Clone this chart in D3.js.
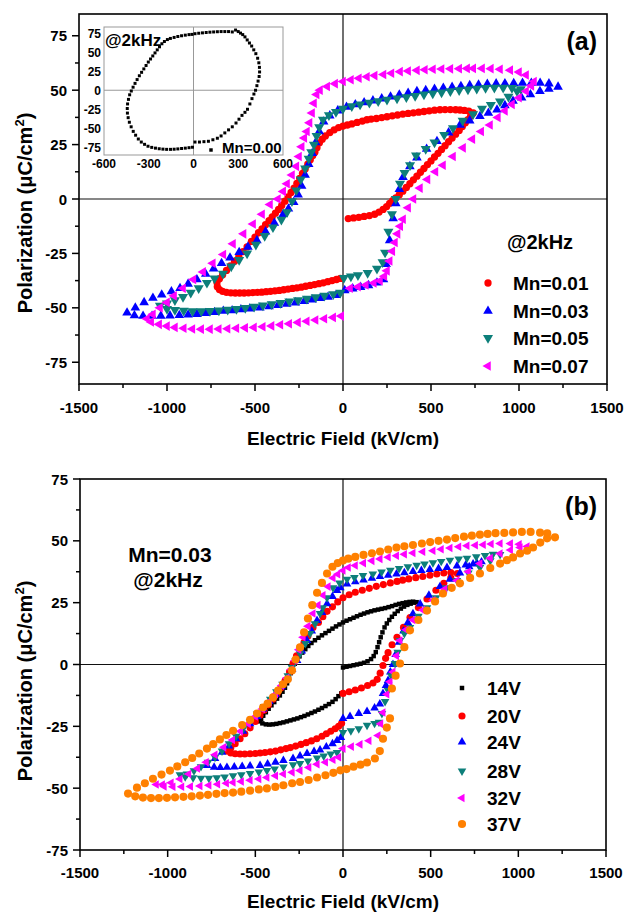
<!DOCTYPE html>
<html>
<head>
<meta charset="utf-8">
<script src="https://cdn.jsdelivr.net/npm/d3@7"></script>
<style>
body{margin:0;background:#fff}
svg text{font-family:"Liberation Sans",Arial,sans-serif;font-weight:bold;fill:#000}
</style>
</head>
<body>
<div id="chart"></div>
<script>
// ---------------------------------------------------------------- DATA (a) : Mn content @2kHz
var mn001 = [[30,-9],[60,-8.7],[90,-8.4],[120,-8],[150,-7.6],[180,-7],[205,-6],[228,-4.8],[248,-3.5],[265,-2],[282,-0.8],[300,0.5],[320,2],[340,3.6],[360,5.3],[380,7],[400,8.8],[420,10.5],[440,12.3],[460,14],[480,15.8],[500,17.5],[520,19.3],[540,21],[560,22.8],[580,24.5],[600,26.3],[620,28],[640,29.8],[660,31.5],[678,33.3],[695,35],[710,36.5],[725,38],[740,39.5],
  [715,40.4],[690,40.7],[665,40.9],[640,41],[610,41.1],[580,41.1],[551,41],[520,40.8],[490,40.5],[460,40.2],[430,39.9],[400,39.6],[370,39.3],[340,39],[310,38.6],[280,38.2],[250,37.8],[220,37.4],[190,37],[160,36.7],[136,36.4],[110,35.8],[80,35.2],[50,34.5],[25,34],[0,33.5],[-25,32.8],[-50,31.8],[-75,30.5],[-100,29],[-118,27.5],[-134,25.8],[-148,23.5],[-160,21.5],[-172,20],[-186,18],[-200,16],[-215,13.8],[-230,11.8],[-246,9.5],[-262,7.2],[-278,5],[-295,3],[-312,1],[-330,-1],[-348,-3],[-366,-4.8],[-384,-6.5],[-402,-8.2],[-420,-10],[-440,-11.8],[-460,-13.7],[-480,-15.5],[-500,-17.5],[-520,-19.5],[-545,-22],[-568,-24.2],[-592,-26.5],[-616,-28.6],[-640,-30.7],[-662,-32.8],[-684,-34.8],[-702,-36.6],[-716,-38.4],
  [-714,-40.3],[-702,-41.6],[-684,-42.4],[-662,-42.9],[-637,-43.1],[-612,-43.2],[-587,-43.2],[-562,-43.2],[-537,-43.1],[-512,-43],[-487,-42.9],[-462,-42.8],[-437,-42.6],[-412,-42.4],[-387,-42.2],[-362,-42],[-337,-41.7],[-312,-41.4],[-287,-41.1],[-262,-40.8],[-237,-40.5],[-212,-40.1],[-187,-39.7],[-162,-39.3],[-137,-38.9],[-112,-38.5],[-87,-38],[-62,-37.5],[-37,-37],[-15,-36.5]];
var mn003 = [[10,-42],[55,-41.2],[100,-40.5],[145,-39.7],[193,-38.5],[230,-37],[245,-30],[265,-19],[285,-9],[300,-2],[320,4.5],[341,10],[380,15],[420,19],[475,23],[534,26.5],[600,30.5],[665,34],[720,36],[778,38],[826,39.5],[875,41],[920,43],[966,45],[1015,46.5],[1065,48],[1119,49.5],[1170,50.5],[1222,51.5],
  [1170,53],[1120,53.3],[1070,53.3],[1020,53.3],[970,53.2],[920,53.1],[870,53],[820,52.8],[770,52.5],[720,52.2],[670,51.8],[620,51.4],[570,51],[520,50.5],[470,50],[420,49.5],[370,48.7],[320,47.9],[270,47],[220,46.1],[170,45.2],[120,44.3],[70,43.4],[20,42.3],[-30,40.6],[-75,38.3],[-110,35.5],[-135,31],[-155,26],[-175,21],[-195,16],[-215,11],[-235,6],[-255,2],[-280,-1.5],[-310,-4.5],[-340,-7],[-390,-11],[-440,-15],[-489,-19],[-540,-22],[-590,-24.5],[-642,-27],[-690,-29.5],[-735,-32],[-780,-34.5],[-830,-37],[-880,-39],[-926,-41],[-975,-42.5],[-1030,-44],[-1080,-45.5],[-1130,-47.5],[-1180,-50],[-1227,-52.3],
  [-1185,-53.5],[-1136,-53.8],[-1085,-53.8],[-1035,-53.7],[-983,-53.6],[-930,-53.4],[-880,-53.2],[-830,-52.9],[-780,-52.5],[-730,-52],[-680,-51.5],[-630,-51.2],[-580,-50.8],[-530,-50.4],[-472,-50],[-420,-49.4],[-370,-48.8],[-320,-48.2],[-270,-47.6],[-220,-47],[-175,-46.3],[-130,-45.6],[-85,-45],[-40,-44.2]];
var mn005 = [[5,-36.3],[45,-35.6],[85,-35],[140,-34],[193,-32],[225,-29],[239,-24.6],[258,-15],[278,-7],[300,0],[324,7],[350,12],[381,15.5],[415,20],[470,23],[520,26],[575,29.5],[625,32.6],[680,36],[739,39],[790,41.5],[840,43.2],[892,44.8],[940,47],[989,49.5],[1010,50.5],
  [960,51],[910,51.2],[860,51.2],[810,51],[760,50.7],[710,50.4],[660,50],[610,49.5],[560,49],[510,48.5],[460,48],[410,47.4],[360,46.8],[307,46.2],[250,45.6],[200,45],[150,44.3],[97,43.5],[50,42.7],[0,41.5],[-40,40],[-80,38.5],[-114,36.5],[-135,33],[-150,29],[-165,25],[-180,21.5],[-195,18.5],[-215,14],[-240,9],[-265,4],[-290,-1],[-318,-6],[-350,-9.5],[-398,-13],[-445,-17],[-495,-21],[-545,-25],[-590,-28],[-635,-31],[-682,-34.3],[-730,-36.5],[-773,-38.5],[-820,-41],[-865,-43],[-909,-45],[-955,-46.5],[-1000,-48],[-1040,-49],
  [-1000,-50.5],[-955,-51],[-905,-51.3],[-855,-51.5],[-805,-51.5],[-756,-51.4],[-705,-51.2],[-655,-50.9],[-605,-50.5],[-555,-50],[-505,-49.5],[-455,-48.9],[-405,-48.3],[-355,-47.7],[-305,-47.1],[-255,-46.5],[-205,-45.8],[-155,-45.1],[-105,-44.4],[-55,-43.7],[-15,-43]];
var mn007 = [[40,-41],[85,-40.3],[130,-39.5],[175,-38.6],[210,-37.6],[235,-35.5],[250,-33],[265,-28.5],[280,-24],[295,-20],[310,-16],[325,-12.5],[341,-9.3],[370,-4],[400,0],[437,5],[480,9],[525,12.5],[568,15.5],[625,19.5],[682,23.5],[735,27.5],[785,31],[835,34],[880,37.5],[920,40.5],[960,43.5],[1000,46.5],[1040,49.5],[1070,52],[1085,54],
  [1040,57],[1000,58.3],[950,59.2],[892,59.6],[840,59.9],[790,60],[740,60],[705,60],[660,59.9],[610,59.8],[560,59.7],[511,59.6],[465,59.4],[420,59.1],[370,58.8],[324,58.5],[275,57.8],[230,57.2],[180,56.7],[136,56.2],[90,55.5],[45,54.8],[0,54],[-45,53],[-90,51.7],[-131,50],[-150,48],[-165,44],[-176,39.5],[-190,35],[-205,31],[-220,28],[-235,24],[-250,19.5],[-265,15],[-290,11],[-318,7],[-340,3.5],[-370,0],[-415,-2.5],[-460,-7],[-511,-11.5],[-565,-16],[-625,-20.6],[-680,-25.5],[-740,-29.5],[-795,-33.5],[-850,-37],[-909,-41],[-960,-44.5],[-1000,-47.5],[-1040,-50],[-1080,-53],[-1114,-55],
  [-1090,-56.5],[-1045,-57.6],[-1000,-58.4],[-955,-59],[-905,-59.4],[-856,-59.7],[-806,-59.8],[-756,-59.8],[-706,-59.7],[-656,-59.6],[-606,-59.4],[-556,-59.2],[-506,-59],[-456,-58.7],[-406,-58.3],[-356,-57.8],[-306,-57.3],[-256,-56.7],[-206,-56.2],[-156,-55.6],[-106,-55],[-56,-54.4],[-10,-53.8]];
// inset : Mn=0.00
var mn000 = [[10,-68],[40,-68],[70,-67.5],[100,-67],[130,-65],[160,-63],[185,-60],[210,-56],[235,-52],[260,-48],[285,-43],[305,-38],[325,-33],[345,-29],[362,-25],[378,-18],[392,-11],[405,-5],[416,0],[425,6],[433,12],[440,18],[443,24],[442,30],[438,36],[430,42],[418,48],[404,53],[390,58],[375,62],[360,66],[345,70],[330,73],[315,75],[300,77],[282,79],
  [260,76.5],[235,77],[210,77],[185,77],[160,76.8],[135,76.5],[110,76.2],[85,75.8],[60,75.3],[35,74.8],[10,74.2],[-10,73.3],[-30,73],[-55,72.3],[-80,71.5],[-105,70.5],[-130,69.3],[-155,68],[-175,66.5],[-195,64],[-212,61],[-228,57],[-243,53],[-258,49],[-273,45],[-288,41],[-303,37],[-318,32.5],[-333,28],[-348,23.5],[-363,19],[-378,14],[-392,9],[-405,4],[-417,-1],[-428,-6],[-436,-12],[-442,-18],[-444,-24],[-443,-30],[-438,-36],[-430,-42],[-418,-48],[-404,-54],[-388,-59],[-370,-64],[-350,-68],[-328,-71],[-305,-73.5],[-280,-75],[-255,-76],[-230,-76.8],[-205,-77.3],[-180,-77.6],[-154,-77.6],[-130,-77.4],[-105,-77],[-80,-76.5],[-55,-76],[-30,-75.4],[-7,-74.8]];

// ---------------------------------------------------------------- DATA (b) : Mn=0.03, driving voltage
var v14 = [[0,-1.2],[20,-0.9],[40,-0.6],[60,-0.3],[80,0],[100,0.3],[120,0.7],[140,1.3],[160,2.2],[175,3.4],[187,5],[197,7],[206,9],[215,11],[225,13],[237,15],[250,16.6],[264,18],[279,19.3],[295,20.5],[312,21.6],[330,22.6],[348,23.4],[367,24.1],[386,24.6],[405,25],[420,25.2],
  [400,25.4],[380,25.3],[360,25.1],[340,24.8],[320,24.5],[300,24.1],[280,23.6],[260,23.2],[240,22.8],[220,22.5],[200,22.2],[180,21.9],[160,21.5],[140,21.1],[120,20.6],[100,20.1],[80,19.5],[60,18.9],[40,18.3],[20,17.7],[0,17],[-20,16.2],[-40,15.4],[-60,14.5],[-80,13.6],[-100,12.7],[-120,11.8],[-140,10.8],[-160,9.8],[-180,8.7],[-198,7.5],[-215,6.2],[-232,4.8],[-248,3.3],[-262,1.8],[-275,0.3],[-287,-1.5],[-298,-3.5],[-308,-5.6],[-319,-7.6],[-331,-9.4],[-345,-11],[-360,-12.5],[-376,-13.8],[-392,-15.2],[-408,-16.5],[-424,-17.9],[-440,-19.3],[-455,-20.7],[-467,-22],[-475,-23],
  [-460,-23.8],[-440,-24.2],[-420,-24.3],[-400,-24.2],[-380,-24],[-360,-23.7],[-340,-23.4],[-320,-23],[-300,-22.6],[-280,-22.2],[-260,-21.8],[-240,-21.3],[-220,-20.8],[-200,-20.2],[-180,-19.6],[-160,-19],[-140,-18.3],[-120,-17.6],[-100,-16.8],[-80,-16],[-60,-15.1],[-42,-14],[-26,-12.8],[-10,-11.7]];
var v20 = [[0,-11.7],[35,-11],[70,-10.3],[105,-9.5],[140,-8.5],[171,-7.5],[195,-6],[212,-3.5],[228,-0.4],[243,2.5],[257,4.8],[280,8],[308,11],[345,15],[382,19],[430,23],[479,26.5],[530,30],[575,32.8],[615,35],[652,36.8],
  [615,37.2],[575,37],[535,36.6],[496,36.1],[455,35.6],[415,35.1],[375,34.6],[340,34.1],[308,33.6],[270,33],[230,32.3],[190,31.6],[150,30.8],[110,30],[70,29.2],[35,28.2],[0,27],[-30,25.3],[-60,23.3],[-91,21.5],[-115,19.3],[-140,17],[-171,15],[-200,11.5],[-222,9],[-245,6.9],[-265,3.5],[-285,0.4],[-305,-3],[-330,-6.5],[-355,-9.5],[-376,-11.7],[-400,-14],[-425,-16.3],[-450,-18.5],[-473,-20.5],[-500,-23],[-530,-25.6],[-560,-28],[-587,-30],[-615,-32],[-640,-33.7],[-662,-35],
  [-640,-35.8],[-615,-36.1],[-587,-36.2],[-560,-36.2],[-530,-36.1],[-500,-36],[-473,-35.8],[-445,-35.6],[-415,-35.3],[-385,-35],[-355,-34.5],[-325,-34],[-300,-33.6],[-270,-33],[-240,-32.3],[-210,-31.6],[-180,-30.9],[-150,-30],[-120,-29],[-95,-28],[-70,-27],[-45,-26],[-25,-25],[-8,-23.8]];
var v24 = [[0,-21.8],[40,-21],[90,-19.8],[137,-19],[180,-17.6],[210,-16],[228,-11.7],[245,-8.5],[257,-6.5],[270,-3],[285,0],[300,4],[320,9],[345,13.5],[370,17],[399,20.5],[440,24.5],[490,28],[553,31.5],[610,34.5],[667,37],[720,39.5],[764,41],[790,41.5],
  [742,40.6],[700,40.2],[650,39.8],[593,39.2],[545,38.8],[495,38.4],[447,38],[399,37.6],[350,37.1],[305,36.6],[258,36.1],[211,35.6],[165,34.9],[117,34.2],[70,33.4],[23,32.5],[-15,31],[-34,29.9],[-60,27.5],[-91,24.6],[-120,21],[-148,17.8],[-178,13.5],[-205,9.7],[-235,5.5],[-262,1.6],[-290,-2],[-320,-6],[-350,-9],[-385,-12],[-420,-15],[-455,-18],[-490,-21],[-530,-24],[-570,-27],[-610,-30],[-650,-33],[-690,-35.5],[-730,-38],[-776,-40.8],
  [-735,-41.5],[-700,-41.7],[-662,-41.6],[-620,-41.4],[-575,-41.2],[-530,-41],[-473,-40.8],[-430,-40.2],[-385,-39.5],[-340,-38.8],[-285,-38],[-245,-37],[-205,-36],[-165,-35.2],[-131,-34.6],[-95,-33.3],[-60,-32],[-34,-30.7],[-12,-29.5]];
var v28 = [[0,-27.5],[45,-26.8],[90,-26],[137,-24.6],[180,-23.8],[205,-23.3],[222,-19.8],[240,-15],[257,-10.5],[275,-4.5],[297,0.4],[312,5],[325,9.7],[350,12.5],[382,15],[430,19.5],[479,23],[530,27],[590,31],[650,34],[715,37],[781,39.2],[840,42],[896,44.5],
  [855,44.6],[810,44.1],[760,43.6],[707,43],[660,42.7],[610,42.2],[560,41.7],[513,41.1],[465,40.6],[420,40.1],[370,39.5],[320,38.8],[270,38.1],[220,37.4],[170,36.6],[114,36],[65,35.2],[23,34.5],[-20,33],[-57,31],[-91,27],[-115,23],[-131,20.6],[-160,16.5],[-188,12.5],[-215,8.5],[-245,4.4],[-270,1.5],[-291,-1.2],[-315,-4.5],[-345,-8],[-380,-11],[-415,-14],[-450,-17],[-490,-20],[-530,-23],[-570,-26],[-610,-29],[-650,-32],[-690,-35],[-730,-37.5],[-770,-39.5],[-810,-41.3],[-850,-43],[-890,-44.3],[-930,-44.6],
  [-900,-45.4],[-855,-45.8],[-810,-46],[-765,-46],[-720,-45.8],[-675,-45.5],[-627,-45],[-580,-44.6],[-530,-44.1],[-480,-43.5],[-434,-42.9],[-390,-42.2],[-340,-41.4],[-285,-40.5],[-245,-40],[-200,-39],[-148,-37.8],[-110,-37],[-70,-36.2],[-34,-35.6]];
var v32 = [[0,-34],[48,-33.2],[97,-32.3],[148,-30.8],[200,-28.7],[215,-24],[228,-19.4],[250,-12],[268,-7],[285,-3],[305,3.5],[325,9.7],[360,14],[399,18],[455,22],[513,26],[580,30.5],[650,34],[715,37.5],[781,40.8],[840,43],[896,44.9],[955,46.3],[1010,47.3],[1050,47.7],
  [1005,48.6],[955,48.9],[896,48.9],[845,48.7],[800,48.4],[755,48.2],[707,48],[660,47.6],[610,47.1],[560,46.6],[513,46],[455,45.6],[399,45.1],[350,44.6],[305,44],[258,43.4],[211,42.7],[165,41.9],[117,41],[70,40],[30,39.2],[0,38],[-30,36.5],[-57,35],[-85,31.5],[-114,28],[-142,24],[-171,20.6],[-200,15.5],[-228,11],[-252,6],[-274,1.6],[-295,-2],[-320,-5.5],[-350,-8.5],[-385,-12],[-420,-15],[-460,-18],[-500,-21],[-540,-24],[-585,-27],[-630,-30.5],[-680,-33.5],[-730,-36.5],[-780,-39.5],[-830,-42],[-880,-44.3],[-930,-46.3],[-980,-47.8],[-1030,-48.5],[-1065,-48.5],
  [-1020,-49.3],[-970,-49.4],[-920,-49.4],[-870,-49.3],[-816,-49.1],[-765,-48.8],[-715,-48.4],[-665,-48],[-627,-47.7],[-580,-47.3],[-530,-46.8],[-480,-46.3],[-434,-45.7],[-385,-45],[-340,-44.3],[-290,-43.6],[-245,-42.9],[-195,-41.6],[-148,-40.3],[-100,-39.5],[-57,-38.5],[-25,-37.5]];
var v37 = [[20,-42.3],[60,-41.3],[100,-40.5],[137,-39.6],[182,-38],[210,-35],[228,-30],[250,-25.5],[268,-21.8],[279,-9.7],[300,-4.5],[325,0.4],[350,7],[382,13.8],[430,18],[479,21.8],[525,25.5],[570,28.7],[620,31],[667,32.8],[725,35],[781,36.8],[840,39],[896,40.8],[935,42.2],[970,43.3],[1010,44.9],[1050,46],[1084,47.3],[1125,49.3],[1164,51],[1209,51.4],
  [1165,53],[1124,53.3],[1070,53.6],[1020,53.6],[970,53.4],[920,53.2],[870,53.1],[825,52.8],[781,52.5],[735,52.1],[690,51.7],[640,51.1],[593,50.5],[545,50],[497,49.5],[450,48.9],[399,48.3],[350,47.8],[305,47.3],[258,46.5],[211,45.7],[165,45],[117,44.3],[70,43.5],[30,42.8],[0,42],[-30,41],[-60,39.5],[-91,36.8],[-120,33],[-148,29],[-175,24],[-200,18.6],[-222,13],[-245,6.9],[-270,2],[-291,-2.4],[-315,-6],[-342,-8],[-370,-10.5],[-399,-13.3],[-430,-15.8],[-456,-17.4],[-490,-19.8],[-530,-22.4],[-575,-24.5],[-627,-26.8],[-665,-28.5],[-702,-30.3],[-740,-32.2],[-776,-34],[-820,-36],[-860,-37.8],[-900,-39.5],[-945,-41.2],[-987,-42.9],[-1035,-44.5],[-1084,-46.2],[-1130,-48],[-1175,-49.8],[-1226,-52.2],
  [-1185,-53.3],[-1141,-53.8],[-1095,-54],[-1050,-54],[-1004,-53.9],[-958,-53.7],[-910,-53.5],[-863,-53.3],[-816,-53],[-770,-52.7],[-722,-52.3],[-675,-52],[-627,-51.8],[-580,-51.4],[-530,-51],[-480,-50.5],[-434,-50.1],[-386,-49.5],[-340,-48.8],[-290,-48],[-245,-47.5],[-196,-46.7],[-148,-45.7],[-100,-44.8],[-55,-43.8],[-15,-42.8]];

// ---------------------------------------------------------------- LABELS / TICKS
var labelsA = ["Mn=0.01","Mn=0.03","Mn=0.05","Mn=0.07"];
var labelsB = ["14V","20V","24V","28V","32V","37V"];
var xTicks = [-1500,-1000,-500,0,500,1000,1500];
var xMinor = [-1250,-750,-250,250,750,1250];
var yTicks = [-75,-50,-25,0,25,50,75];
var yMinor = [-62.5,-37.5,-12.5,12.5,37.5,62.5];
var insetXTicks = [-600,-300,0,300,600];
var insetYTicks = [-75,-50,-25,0,25,50,75];

// ---------------------------------------------------------------- STYLES
var colorsA = ["#ff0000","#0000ff","#0d7f7a","#ff00ff"];
var shapesA = ["circle","up","down","left"];
var sizesA = [42,40,44,40];
var colorsB = ["#000000","#ff0000","#0000ff","#0d7f7a","#ff00ff","#ff8000"];
var shapesB = ["square","circle","up","down","left","circle"];
var sizesB = [20,40,32,32,32,52];

var shapeDef = {circle:[d3.symbolCircle,0],square:[d3.symbolSquare,0],up:[d3.symbolTriangle,0],down:[d3.symbolTriangle,180],left:[d3.symbolTriangle,-90]};

function drawMarkers(g,data,x,y,shape,size,color){
    var s = shapeDef[shape];
    var p = d3.symbol().type(s[0]).size(size)();
    g.append("g").selectAll("path").data(data).join("path")
        .attr("d",p)
        .attr("transform",function(d){return "translate("+x(d[0])+","+y(d[1])+") rotate("+s[1]+")"})
        .style("fill",color);
}

function drawFrame(g,x,y,lblY,titleY,ytitleY){
    var left = x.range()[0], right = x.range()[1];
    var top = y.range()[1], bottom = y.range()[0];
    // zero lines
    g.append("line").attr("x1",x(0)).attr("x2",x(0)).attr("y1",top).attr("y2",bottom).style("stroke","#111").style("stroke-width",1.2);
    g.append("line").attr("x1",left).attr("x2",right).attr("y1",y(0)).attr("y2",y(0)).style("stroke","#111").style("stroke-width",1.2);
    // ticks
    g.selectAll(".xt").data(xTicks).join("line").attr("x1",d=>x(d)).attr("x2",d=>x(d)).attr("y1",bottom).attr("y2",bottom+7).style("stroke","#000").style("stroke-width",1.5);
    g.selectAll(".xm").data(xMinor).join("line").attr("x1",d=>x(d)).attr("x2",d=>x(d)).attr("y1",bottom).attr("y2",bottom+4).style("stroke","#000").style("stroke-width",1.5);
    g.selectAll(".yt").data(yTicks).join("line").attr("x1",left-7).attr("x2",left).attr("y1",d=>y(d)).attr("y2",d=>y(d)).style("stroke","#000").style("stroke-width",1.5);
    g.selectAll(".ym").data(yMinor).join("line").attr("x1",left-4).attr("x2",left).attr("y1",d=>y(d)).attr("y2",d=>y(d)).style("stroke","#000").style("stroke-width",1.5);
    g.append("rect").attr("x",left).attr("y",top).attr("width",right-left).attr("height",bottom-top)
        .style("fill","none").style("stroke","#000").style("stroke-width",1.6);
    // tick labels
    g.selectAll(".xl").data(xTicks).join("text").attr("x",d=>x(d)).attr("y",lblY).attr("text-anchor","middle").style("font-size","15px").text(d=>String(d));
    g.selectAll(".yl").data(yTicks).join("text").attr("x",left-12).attr("y",d=>y(d)+5.5).attr("text-anchor","end").style("font-size","15px").text(d=>String(d));
    // titles
    g.append("text").attr("x",343).attr("y",titleY).attr("text-anchor","middle").style("font-size","19px").text("Electric Field (kV/cm)");
    var t = g.append("text").attr("transform","translate(25,"+ytitleY+") rotate(-90)").attr("dy","0.35em").attr("text-anchor","middle").style("font-size","20px");
    t.append("tspan").text("Polarization (\u03bcC/cm");
    t.append("tspan").attr("dy",-8).style("font-size","13px").text("2");
    t.append("tspan").attr("dy",8).text(")");
}

var svg = d3.select("#chart").append("svg").attr("width",627).attr("height",912);
svg.append("rect").attr("width",627).attr("height",912).style("fill","#fff");

//--------------------------------------------------------------------------------//
//                                   PANEL (a)                                    //
//--------------------------------------------------------------------------------//
var xa = d3.scaleLinear().domain([-1500,1500]).range([79,607]);
var ya = d3.scaleLinear().domain([-85,85]).range([384,14]);
var ga = svg.append("g");
drawFrame(ga,xa,ya,413,445,213);

var seriesA = [mn001,mn003,mn005,mn007];
seriesA.forEach(function(s,i){drawMarkers(ga,s,xa,ya,shapesA[i],sizesA[i],colorsA[i])});

// inset
var xi = d3.scaleLinear().domain([-600,600]).range([104,283]);
var yi = d3.scaleLinear().domain([-85,83]).range([155,27]);
var gi = ga.append("g");
gi.append("line").attr("x1",xi(0)).attr("x2",xi(0)).attr("y1",27).attr("y2",155).style("stroke","#999").style("stroke-width",1);
gi.append("line").attr("x1",104).attr("x2",283).attr("y1",yi(0)).attr("y2",yi(0)).style("stroke","#999").style("stroke-width",1);
gi.append("rect").attr("x",104).attr("y",27).attr("width",179).attr("height",128).style("fill","none").style("stroke","#999").style("stroke-width",1);
gi.selectAll(".ixl").data(insetXTicks).join("text").attr("x",d=>xi(d)).attr("y",168).attr("text-anchor","middle").style("font-size","12px").text(d=>String(d));
gi.selectAll(".iyl").data(insetYTicks).join("text").attr("x",101).attr("y",d=>yi(d)+4.5).attr("text-anchor","end").style("font-size","12px").text(d=>String(d));
drawMarkers(gi,mn000,xi,yi,"square",9,"#000");
gi.append("text").attr("x",105).attr("y",46).style("font-size","17px").text("@2kHz");
gi.append("path").attr("d",d3.symbol().type(d3.symbolSquare).size(12)()).attr("transform","translate(211,150)").style("fill","#000");
gi.append("text").attr("x",222).attr("y",153).style("font-size","15px").text("Mn=0.00");

// legend (a)
ga.append("text").attr("x",597).attr("y",50).attr("text-anchor","end").style("font-size","25px").text("(a)");
ga.append("text").attr("x",540).attr("y",249).attr("text-anchor","middle").style("font-size","20px").text("@2kHz");
var legA = [283,311,338,366];
labelsA.forEach(function(l,i){
    var s = shapeDef[shapesA[i]];
    ga.append("path").attr("d",d3.symbol().type(s[0]).size(sizesA[i])()).attr("transform","translate(488,"+legA[i]+") rotate("+s[1]+")").style("fill",colorsA[i]);
    ga.append("text").attr("x",513).attr("y",legA[i]+7).style("font-size","19px").text(l);
});

//--------------------------------------------------------------------------------//
//                                   PANEL (b)                                    //
//--------------------------------------------------------------------------------//
var xb = d3.scaleLinear().domain([-1500,1500]).range([80,606]);
var yb = d3.scaleLinear().domain([-75,75]).range([850,479]);
var gb = svg.append("g");
drawFrame(gb,xb,yb,878,908,681);

var seriesB = [v14,v20,v24,v28,v32,v37];
seriesB.forEach(function(s,i){drawMarkers(gb,s,xb,yb,shapesB[i],sizesB[i],colorsB[i])});

gb.append("text").attr("x",597).attr("y",515).attr("text-anchor","end").style("font-size","25px").text("(b)");
gb.append("text").attr("x",170).attr("y",562).attr("text-anchor","middle").style("font-size","21px").text("Mn=0.03");
gb.append("text").attr("x",168).attr("y",587).attr("text-anchor","middle").style("font-size","21px").text("@2kHz");
var legB = [688,716,742,771,798,824];
labelsB.forEach(function(l,i){
    var s = shapeDef[shapesB[i]];
    gb.append("path").attr("d",d3.symbol().type(s[0]).size(sizesB[i])()).attr("transform","translate(462,"+legB[i]+") rotate("+s[1]+")").style("fill",colorsB[i]);
    gb.append("text").attr("x",487).attr("y",legB[i]+7).style("font-size","19px").text(l);
});
</script>
</body>
</html>
